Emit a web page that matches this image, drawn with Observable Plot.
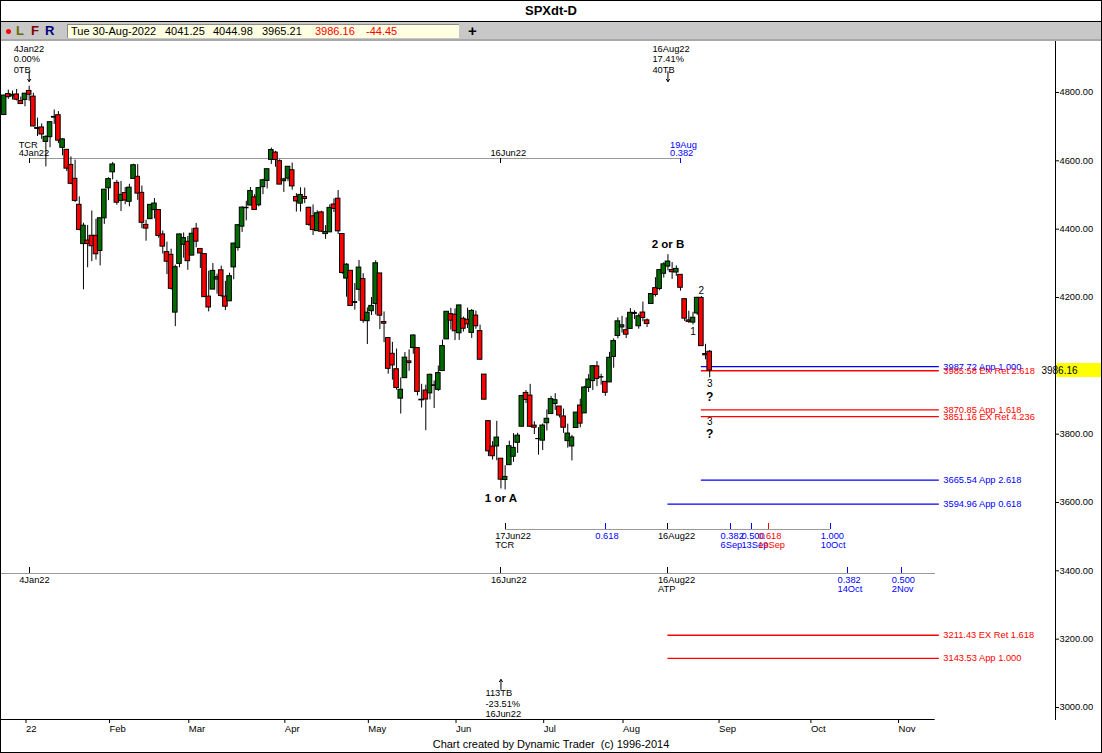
<!DOCTYPE html>
<html>
<head>
<meta charset="utf-8">
<script src="https://cdn.jsdelivr.net/npm/d3@7"></script>
<script src="https://cdn.jsdelivr.net/npm/@observablehq/plot@0.6"></script>
<style>
  html, body { margin: 0; padding: 0; background: #fff; }
  body { font-family: "Liberation Sans", Arial, sans-serif; }
  #wrap { position: relative; width: 1102px; height: 753px; overflow: hidden; background: #fff; }
  #title { position: absolute; left: 0; top: 0; width: 1102px; height: 22px; line-height: 21px; text-align: center; font-weight: bold; font-size: 13px; border-bottom: 1px solid #000; box-sizing: border-box; }
  #bar { position: absolute; left: 0; top: 22px; width: 1102px; height: 19px; background: #c8c8c8; border-bottom: 2px solid #a8a8a8; box-sizing: border-box; }
  #dot { position: absolute; left: 6px; top: 7px; width: 5px; height: 5px; border-radius: 50%; background: #ff0000; }
  .lfr { position: absolute; top: 1px; font-weight: bold; font-size: 13px; line-height: 16px; }
  #quote { position: absolute; left: 67px; top: 2px; width: 392px; height: 14px; background: #ffffe1; border-top: 1px solid #8a8a8a; border-left: 1px solid #8a8a8a; box-sizing: border-box; font-size: 11px; }
  #quote span { position: absolute; top: 0px; line-height: 13px; white-space: pre; }
  #plus { position: absolute; left: 468px; top: 0px; font-weight: bold; font-size: 15px; line-height: 17px; }
  #chart { position: absolute; left: 0; top: 41px; }
  #caption { position: absolute; left: 0; top: 738px; width: 1102px; text-align: center; font-size: 11px; line-height: 13px; white-space: pre; }
  #border { position: absolute; left: 0; top: 0; width: 1102px; height: 753px; border: 1px solid #000; box-sizing: border-box; pointer-events: none; }
</style>
</head>
<body>
<div id="wrap">
  <div id="title">SPXdt-D</div>
  <div id="bar">
    <div id="dot"></div>
    <span class="lfr" style="left:16px;color:#6b6b00">L</span>
    <span class="lfr" style="left:31px;color:#800000">F</span>
    <span class="lfr" style="left:45px;color:#000080">R</span>
    <div id="quote"></div>
    <span id="plus">+</span>
  </div>
  <div id="chart"></div>
  <div id="caption">Chart created by Dynamic Trader  (c) 1996-2014</div>
  <div id="border"></div>
</div>
<script>
// ---------------- DATA ----------------
const dates = [
"2021-12-27","2021-12-28","2021-12-29","2021-12-30","2021-12-31",
"2022-01-03","2022-01-04","2022-01-05","2022-01-06","2022-01-07","2022-01-10","2022-01-11","2022-01-12","2022-01-13","2022-01-14",
"2022-01-18","2022-01-19","2022-01-20","2022-01-21","2022-01-24","2022-01-25","2022-01-26","2022-01-27","2022-01-28","2022-01-31",
"2022-02-01","2022-02-02","2022-02-03","2022-02-04","2022-02-07","2022-02-08","2022-02-09","2022-02-10","2022-02-11","2022-02-14",
"2022-02-15","2022-02-16","2022-02-17","2022-02-18","2022-02-22","2022-02-23","2022-02-24","2022-02-25","2022-02-28",
"2022-03-01","2022-03-02","2022-03-03","2022-03-04","2022-03-07","2022-03-08","2022-03-09","2022-03-10","2022-03-11","2022-03-14",
"2022-03-15","2022-03-16","2022-03-17","2022-03-18","2022-03-21","2022-03-22","2022-03-23","2022-03-24","2022-03-25","2022-03-28",
"2022-03-29","2022-03-30","2022-03-31",
"2022-04-01","2022-04-04","2022-04-05","2022-04-06","2022-04-07","2022-04-08","2022-04-11","2022-04-12","2022-04-13","2022-04-14",
"2022-04-18","2022-04-19","2022-04-20","2022-04-21","2022-04-22","2022-04-25","2022-04-26","2022-04-27","2022-04-28","2022-04-29",
"2022-05-02","2022-05-03","2022-05-04","2022-05-05","2022-05-06","2022-05-09","2022-05-10","2022-05-11","2022-05-12","2022-05-13",
"2022-05-16","2022-05-17","2022-05-18","2022-05-19","2022-05-20","2022-05-23","2022-05-24","2022-05-25","2022-05-26","2022-05-27","2022-05-31",
"2022-06-01","2022-06-02","2022-06-03","2022-06-06","2022-06-07","2022-06-08","2022-06-09","2022-06-10","2022-06-13","2022-06-14",
"2022-06-15","2022-06-16","2022-06-17","2022-06-21","2022-06-22","2022-06-23","2022-06-24","2022-06-27","2022-06-28","2022-06-29","2022-06-30",
"2022-07-01","2022-07-06","2022-07-07","2022-07-08","2022-07-11","2022-07-12","2022-07-13","2022-07-14","2022-07-15",
"2022-07-18","2022-07-19","2022-07-20","2022-07-21","2022-07-22","2022-07-25","2022-07-26","2022-07-27","2022-07-28","2022-07-29",
"2022-08-01","2022-08-02","2022-08-03","2022-08-04","2022-08-05","2022-08-08","2022-08-09","2022-08-10","2022-08-11","2022-08-12",
"2022-08-15","2022-08-16","2022-08-17","2022-08-18","2022-08-19","2022-08-22","2022-08-23","2022-08-24","2022-08-25","2022-08-26",
"2022-08-29","2022-08-30"
];
const open = [
4733.99,4795.49,4788.64,4794.23,4775.21,
4778.14,4804.51,4787.99,4693.39,4697.66,4655.34,4669.14,4728.59,4733.56,4637.99,
4632.24,4588.03,4547.35,4471.38,4356.32,4366.64,4380.58,4380.58,4336.19,4431.79,
4519.57,4566.39,4535.41,4482.79,4505.75,4480.02,4547.00,4553.24,4506.27,4412.61,
4429.28,4455.75,4456.06,4384.57,4332.74,4324.93,4155.77,4298.38,4354.17,
4363.14,4322.56,4401.31,4342.12,4327.01,4202.66,4223.10,4252.55,4279.50,4202.75,
4188.82,4288.14,4345.11,4407.34,4462.40,4469.10,4493.10,4469.98,4522.91,4541.09,
4602.86,4624.20,4599.02,
4540.32,4547.97,4572.45,4494.17,4474.65,4494.15,4462.64,4437.59,4394.30,4449.12,
4385.63,4390.63,4472.26,4489.17,4385.83,4255.34,4278.14,4186.52,4222.58,4253.75,
4130.61,4159.78,4181.18,4270.43,4128.17,4081.27,4035.18,3990.08,3903.95,3963.90,
4013.02,4052.00,4051.98,3899.00,3927.76,3919.42,3942.94,3929.59,3984.60,4077.43,4151.09,
4149.78,4095.41,4137.57,4134.72,4096.47,4147.12,4101.65,3974.39,3838.15,3763.52,
3764.05,3728.18,3665.90,3709.33,3733.89,3774.71,3821.75,3920.76,3913.00,3825.09,3785.99,
3781.00,3831.98,3858.85,3888.26,3880.94,3851.95,3779.67,3763.99,3818.00,
3883.79,3860.73,3935.32,3955.47,3998.43,3965.72,3953.22,3951.43,4026.13,4087.33,
4112.38,4104.21,4107.96,4154.85,4115.87,4155.93,4133.11,4181.02,4227.40,4225.02,
4269.37,4290.46,4280.40,4273.13,4266.31,4195.08,4133.09,4126.55,4153.26,4198.74,
4034.58,4041.25
];
const high = [
4791.49,4807.02,4804.06,4808.93,4786.83,
4796.64,4818.62,4797.70,4725.01,4707.95,4673.02,4714.13,4748.83,4744.13,4665.13,
4632.24,4611.55,4602.11,4494.52,4417.35,4411.01,4453.23,4428.74,4432.72,4516.89,
4550.49,4595.31,4542.88,4539.66,4521.86,4531.32,4590.03,4588.92,4526.33,4426.22,
4472.77,4489.55,4456.06,4394.60,4362.12,4341.51,4294.73,4385.34,4388.84,
4378.45,4401.48,4416.78,4342.12,4327.01,4276.94,4299.40,4268.28,4291.86,4247.57,
4271.05,4358.90,4412.67,4465.40,4481.75,4522.00,4501.07,4520.58,4546.03,4575.65,
4637.30,4627.77,4603.07,
4548.70,4583.50,4593.45,4503.94,4521.16,4520.41,4464.35,4471.00,4453.92,4452.61,
4410.31,4471.03,4488.29,4512.94,4385.83,4299.02,4278.14,4240.71,4308.45,4269.68,
4169.81,4200.10,4307.66,4270.43,4157.69,4081.27,4068.82,4049.09,3964.80,4038.88,
4046.46,4090.72,4051.98,3945.96,3943.42,3975.72,3955.68,3999.33,4075.14,4158.49,4168.34,
4166.54,4177.51,4142.67,4168.78,4164.86,4160.14,4119.10,3974.39,3838.15,3778.18,
3837.56,3728.18,3707.71,3779.65,3801.79,3802.58,3913.65,3927.72,3945.86,3836.50,3818.99,
3829.82,3870.91,3910.63,3918.50,3880.94,3873.41,3829.44,3796.41,3863.62,
3902.44,3939.81,3974.13,3999.29,4012.44,3975.30,3953.22,4039.56,4078.95,4140.15,
4144.95,4140.47,4167.66,4161.29,4151.58,4186.62,4137.30,4211.03,4257.91,4280.47,
4301.79,4325.28,4302.18,4292.53,4266.31,4195.08,4159.77,4156.56,4200.54,4203.04,
4062.99,4044.98
];
const low = [
4733.99,4780.04,4778.08,4775.33,4765.75,
4758.17,4774.27,4699.44,4671.26,4662.74,4582.24,4638.27,4706.71,4650.29,4614.75,
4568.70,4530.20,4477.95,4395.34,4222.62,4287.11,4304.80,4309.50,4292.46,4414.02,
4483.53,4544.32,4470.39,4451.50,4471.47,4465.40,4547.00,4484.31,4401.41,4364.84,
4429.28,4429.68,4373.81,4327.22,4267.11,4221.51,4114.65,4286.83,4315.12,
4279.54,4322.56,4345.56,4284.98,4199.85,4157.87,4223.10,4209.80,4200.49,4161.72,
4187.90,4251.99,4335.65,4390.57,4424.30,4469.10,4455.81,4465.17,4501.07,4517.69,
4589.50,4581.32,4530.41,
4507.57,4539.21,4514.17,4450.04,4450.30,4474.60,4408.38,4381.34,4392.70,4390.66,
4370.30,4390.63,4448.76,4384.47,4267.62,4200.82,4175.04,4162.90,4188.63,4124.28,
4062.51,4147.08,4148.91,4106.01,4067.91,3975.48,3958.17,3928.82,3858.87,3963.90,
3983.99,4033.93,3911.91,3876.58,3810.32,3900.41,3875.13,3925.03,3984.60,4077.43,4104.88,
4073.85,4074.37,4098.67,4109.18,4080.19,4107.20,4017.17,3900.16,3734.30,3724.27,
3722.30,3639.77,3636.87,3709.33,3717.69,3743.52,3821.75,3889.66,3820.14,3799.02,3738.67,
3752.10,3809.37,3858.85,3869.34,3847.22,3802.36,3759.07,3721.56,3817.18,
3818.63,3860.73,3922.03,3927.64,3938.85,3943.46,3910.74,3951.43,3992.97,4079.22,
4096.02,4079.81,4107.96,4135.42,4107.31,4128.97,4112.09,4181.02,4201.41,4219.78,
4256.90,4277.77,4253.08,4261.98,4218.70,4129.86,4124.03,4119.97,4147.59,4057.66,
4017.42,3965.21
];
const close = [
4791.19,4786.35,4793.06,4778.73,4766.18,
4796.56,4793.54,4700.58,4696.05,4677.03,4670.29,4713.07,4726.35,4659.03,4662.85,
4577.11,4532.76,4482.73,4397.94,4410.13,4356.45,4349.93,4326.51,4431.85,4515.55,
4546.54,4589.38,4477.44,4500.53,4483.87,4521.54,4587.18,4504.08,4418.64,4401.67,
4471.07,4475.01,4380.26,4348.87,4304.76,4225.50,4288.70,4384.65,4373.94,
4306.26,4386.54,4363.49,4328.87,4201.09,4170.70,4277.88,4259.52,4204.31,4173.11,
4262.45,4357.86,4411.67,4463.12,4461.18,4511.61,4456.24,4520.16,4543.06,4575.52,
4631.60,4602.45,4530.41,
4545.86,4582.64,4525.12,4481.15,4500.21,4488.28,4412.53,4397.45,4446.59,4392.59,
4391.69,4462.21,4459.45,4393.66,4271.78,4296.12,4175.20,4183.96,4287.50,4131.93,
4155.38,4175.48,4300.17,4146.87,4123.34,3991.24,4001.05,3935.18,3930.08,4023.89,
4008.01,4088.85,3923.68,3900.79,3901.36,3973.75,3941.48,3978.73,4057.84,4158.24,4132.15,
4101.23,4176.82,4108.54,4121.43,4160.68,4115.77,4017.82,3900.86,3749.63,3735.48,
3789.99,3666.77,3674.84,3764.79,3759.89,3795.73,3911.74,3900.11,3821.55,3818.83,3785.38,
3825.33,3845.08,3902.62,3899.38,3854.43,3818.80,3801.78,3790.38,3863.16,
3830.85,3936.69,3959.90,3998.95,3961.63,3966.84,3921.05,4023.61,4072.43,4130.29,
4118.63,4091.19,4155.17,4151.94,4145.19,4140.06,4122.47,4210.24,4207.27,4280.15,
4297.14,4305.20,4274.04,4283.74,4228.48,4137.99,4128.73,4140.77,4199.12,4057.66,
4030.61,3986.16
];

// price axis ticks (right side)
const yTicks = [3000, 3200, 3400, 3600, 3800, 4000, 4200, 4400, 4600, 4800];
// month ticks along the time axis
const monthTickDates = ["2022-01-03","2022-02-01","2022-03-01","2022-04-01","2022-05-02","2022-06-01","2022-07-01","2022-08-01","2022-09-01","2022-10-03","2022-11-01"];
const monthTickLabels = ["22","Feb","Mar","Apr","May","Jun","Jul","Aug","Sep","Oct","Nov"];

// price projection levels
const levelPrices = [3987.72, 3985.58, 3870.85, 3851.16, 3665.54, 3594.96, 3211.43, 3143.53];
const levelLabels = ["App 1.000","EX Ret 2.618","App 1.618","EX Ret 4.236","App 2.618","App 0.618","EX Ret 1.618","App 1.000"];
const levelSet = ["b","r","r","r","b","b","r","r"];
const levelFrom = ["2022-08-26","2022-08-26","2022-08-26","2022-08-26","2022-08-26","2022-08-16","2022-08-16","2022-08-16"];
const levelTo = "2022-11-15";

// time rulers (price level where each ruler is drawn, its span)
const rulerPrices = [4607, 3521, 3392];
const rulerFrom = ["2022-01-04", "2022-06-17", null];
const rulerTo = ["2022-08-19", "2022-10-10", "2022-11-14"];
const rulerTickRuler = [0,0,0, 1,1,1,1,1,1,1, 2,2,2,2,2];
const rulerTickDates = ["2022-01-04","2022-06-16","2022-08-19",
  "2022-06-17","2022-07-26","2022-08-16","2022-09-06","2022-09-13","2022-09-19","2022-10-10",
  "2022-01-04","2022-06-16","2022-08-16","2022-10-14","2022-11-02"];
const rulerTickLabels = ["TCR\n4Jan22","16Jun22","19Aug\n0.382",
  "17Jun22\nTCR","0.618","16Aug22","0.382\n6Sep","0.500\n13Sep","0.618\n19Sep","1.000\n10Oct",
  "4Jan22","16Jun22","16Aug22\nATP","0.382\n14Oct","0.500\n2Nov"];
const rulerTickKind = ["date","date","ratio", "date","ratio","date","ratio","ratio","alt","ratio", "date","date","date","ratio","ratio"];

// swing notes with arrows
const noteDates = ["2022-01-04", "2022-08-16", "2022-06-16"];
const noteTexts = ["4Jan22\n0.00%\n0TB", "16Aug22\n17.41%\n40TB", "113TB\n-23.51%\n16Jun22"];
const notePrices = [4898, 4898, 3012];
const arrowFrom = [4861, 4861, 3053];
const arrowTo = [4832, 4832, 3082];

// wave labels
const waveDates = ["2022-08-16", "2022-06-16"];
const waveTexts = ["2 or B", "1 or A"];
const wavePrices = [4356, 3612];
const countDates = ["2022-08-24", "2022-08-26", "2022-08-30", "2022-08-30"];
const countTexts = ["1", "2", "3", "3"];
const countPrices = [4101, 4219, 3948, 3837];
const queryDates = ["2022-08-30", "2022-08-30"];
const queryPrices = [3907, 3799];

// ---------------- HELPERS ----------------
const parseDate = d3.utcParse("%Y-%m-%d");
function barIndex(s) {
  const k = dates.indexOf(s);
  if (k >= 0) return k;
  const last = parseDate(dates[dates.length - 1]);
  const t = parseDate(s);
  if (t <= last) return dates.findIndex(d => parseDate(d) >= t);
  const days = d3.utcDays(d3.utcDay.offset(last, 1), d3.utcDay.offset(t, 1));
  return dates.length - 1 + days.filter(d => d.getUTCDay() !== 0 && d.getUTCDay() !== 6).length;
}

const GREEN = "#006b00", RED = "#ff0000", BLUE = "#0000ff";
const kindColor = {date: "#000000", ratio: BLUE, alt: RED};
const setColor = {b: BLUE, r: RED};
const SMALL = 9.3;

const bars = dates.map((d, k) => ({i: k, o: open[k], h: high[k], l: low[k], c: close[k]}));
const levels = levelPrices.map((p, k) => ({price: p, label: p.toFixed(2) + " " + levelLabels[k], color: setColor[levelSet[k]], from: barIndex(levelFrom[k]), to: barIndex(levelTo)}));
const rulers = rulerPrices.map((p, k) => ({price: p, from: rulerFrom[k] ? barIndex(rulerFrom[k]) : -2, to: barIndex(rulerTo[k])}));
const rulerTicks = rulerTickDates.map((d, k) => ({i: barIndex(d), price: rulerPrices[rulerTickRuler[k]], label: rulerTickLabels[k], color: kindColor[rulerTickKind[k]], down: rulerTickRuler[k] === 0}));
const notes = noteDates.map((d, k) => ({i: barIndex(d), text: noteTexts[k], price: notePrices[k], a1: arrowFrom[k], a2: arrowTo[k]}));
const waves = waveDates.map((d, k) => ({i: barIndex(d), text: waveTexts[k], price: wavePrices[k]}));
const counts = countDates.map((d, k) => ({i: barIndex(d), text: countTexts[k], price: countPrices[k]}));
const queries = queryDates.map((d, k) => ({i: barIndex(d), price: queryPrices[k]}));
const monthTicks = monthTickDates.map(barIndex);
const monthLabelOf = new Map(monthTicks.map((t, k) => [t, monthTickLabels[k]]));
const lastClose = close[close.length - 1];
const axisEnd = barIndex("2022-11-14");

// header quote
const fmt = d3.utcFormat("%a %d-%b-%Y");
const n = dates.length - 1;
const quoteFields = [
  [fmt(parseDate(dates[n])), 3, "#000"],
  [open[n].toFixed(2), 97, "#000"],
  [high[n].toFixed(2), 145, "#000"],
  [low[n].toFixed(2), 194, "#000"],
  [close[n].toFixed(2), 247, "#ff0000"],
  [(close[n] - close[n - 1]).toFixed(2), 298, "#ff0000"]
];
const quote = document.getElementById("quote");
for (const [t, left, col] of quoteFields) {
  const s = document.createElement("span");
  s.textContent = t; s.style.left = left + "px"; s.style.color = col;
  quote.appendChild(s);
}

// decorations drawn with the library's scales
function decorations(index, scales, values, dim) {
  const g = d3.create("svg:g");
  const yb = dim.height - dim.marginBottom + 0.5;
  const xr = dim.width - dim.marginRight + 0.5;
  g.append("line").attr("x1", dim.marginLeft).attr("x2", scales.x(axisEnd)).attr("y1", yb).attr("y2", yb).attr("stroke", "#000");
  g.append("line").attr("x1", xr).attr("x2", xr).attr("y1", 0).attr("y2", dim.height - dim.marginBottom + 1).attr("stroke", "#000");
  const yc = scales.y(lastClose);
  g.append("rect").attr("x", xr + 1).attr("y", Math.round(yc) - 7).attr("width", 47).attr("height", 14).attr("fill", "#ffff00");
  g.append("text").attr("x", xr + 4).attr("y", yc).attr("dy", "0.35em").attr("font-size", 10).attr("fill", "#000").text(lastClose.toFixed(2));
  return g.node();
}

const chart = Plot.plot({
  width: 1102,
  height: 698,
  marginLeft: 0,
  marginRight: 47,
  marginTop: 0,
  marginBottom: 20,
  style: {fontFamily: "'Liberation Sans', Arial, sans-serif", fontSize: "9.3px", background: "transparent", overflow: "visible"},
  x: {type: "linear", domain: [5, 225], range: [24.5, 24.5 + 220 * 4.175], axis: null},
  y: {type: "linear", domain: [3000, 4800], range: [666, 51], axis: null},
  color: {type: "identity"},
  marks: [
    // time rulers
    Plot.ruleY(rulers, {y: "price", x1: "from", x2: "to", stroke: "#9a9a9a", clip: true, shapeRendering: "crispEdges"}),
    Plot.ruleX(rulerTicks.filter(t => t.down), {x: "i", y1: "price", y2: "price", insetBottom: -5, stroke: "color", shapeRendering: "crispEdges"}),
    Plot.ruleX(rulerTicks.filter(t => !t.down), {x: "i", y1: "price", y2: "price", insetTop: -6, stroke: "color", shapeRendering: "crispEdges"}),
    Plot.text(rulerTicks.filter(t => t.down), {x: "i", y: "price", text: "label", fill: "color", textAnchor: "start", lineAnchor: "bottom", dx: -10.5, dy: -2, fontSize: SMALL, lineHeight: 0.95}),
    Plot.text(rulerTicks.filter(t => !t.down), {x: "i", y: "price", text: "label", fill: "color", textAnchor: "start", lineAnchor: "top", dx: -10, dy: 3, fontSize: SMALL, lineHeight: 1.0}),
    // projected price levels (the two nearly equal levels are nudged apart as in the source)
    Plot.ruleY(levels.slice(0, 1), {y: "price", x1: "from", x2: "to", stroke: "color", strokeWidth: 1.3, dy: -3.5}),
    Plot.ruleY(levels.slice(1), {y: "price", x1: "from", x2: "to", stroke: "color", strokeWidth: 1.3}),
    Plot.text(levels.slice(0, 1), {x: "to", y: "price", text: "label", fill: "color", textAnchor: "start", dx: 4, dy: -3.5, fontSize: SMALL}),
    Plot.text(levels.slice(1, 2), {x: "to", y: "price", text: "label", fill: "color", textAnchor: "start", dx: 4, dy: 0.5, fontSize: SMALL}),
    Plot.text(levels.slice(2), {x: "to", y: "price", text: "label", fill: "color", textAnchor: "start", dx: 4, fontSize: SMALL}),
    // candles
    Plot.ruleX(bars, {x: "i", y1: "l", y2: "h", stroke: "#000", clip: true}),
    Plot.rect(bars, {x1: d => d.i - 0.55, x2: d => d.i + 0.55, y1: d => Math.min(d.o, d.c), y2: d => Math.max(d.o, d.c), fill: d => d.c >= d.o ? GREEN : RED, stroke: "#000", strokeWidth: 1, clip: true}),
    Plot.ruleY(bars.filter(d => Math.abs(d.c - d.o) < 0.05), {y: "c", x1: d => d.i - 0.6, x2: d => d.i + 0.6, stroke: "#000", clip: true}),
    // swing notes
    Plot.text(notes, {x: "i", y: "price", text: "text", textAnchor: "start", dx: -15.5, fontSize: SMALL, lineHeight: 1.12, fill: "#000"}),
    Plot.arrow(notes, {x1: "i", x2: "i", y1: "a1", y2: "a2", stroke: "#000", strokeWidth: 1, headLength: 4, headAngle: 70}),
    // wave labels
    Plot.text(waves, {x: "i", y: "price", text: "text", fontWeight: "bold", fontSize: 11.5, fill: "#000"}),
    Plot.text(counts, {x: "i", y: "price", text: "text", fontSize: 10, fill: "#000"}),
    Plot.text(queries, {x: "i", y: "price", text: () => "?", fontWeight: "bold", fontSize: 12, fill: "#000"}),
    // axes
    Plot.axisX(monthTicks, {anchor: "bottom", tickFormat: d => monthLabelOf.get(d), tickSize: 4, tickPadding: 2, textAnchor: "start", dx: 1, fontSize: 9.5, label: null}),
    Plot.axisY(yTicks, {anchor: "right", tickFormat: d => d.toFixed(2), tickSize: 3, tickPadding: 1, fontSize: SMALL, label: null}),
    decorations
  ]
});
document.getElementById("chart").appendChild(chart);
</script>
</body>
</html>
